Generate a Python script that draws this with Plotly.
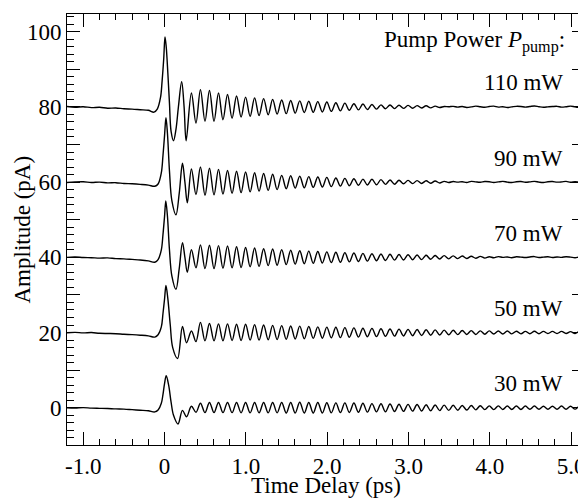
import numpy as np
import plotly.graph_objects as go

# trace offsets (pA) and labels, bottom to top
offsets = [0, 20, 40, 60, 80]
labels = ["30 mW", "50 mW", "70 mW", "90 mW", "110 mW"]

# baseline before the pulse (ps), values relative to the trace offset
t_pre = [-1.2, -1.1, -1.0, -0.9, -0.8, -0.7, -0.6, -0.5, -0.4, -0.3, -0.2]
pre_30 = [0.0, -0.05, 0.05, -0.1, -0.15, -0.2, -0.3, -0.35, -0.5, -0.65, -0.8]
pre_50 = [-0.05, 0.05, -0.1, 0.0, -0.2, -0.25, -0.3, -0.45, -0.55, -0.7, -0.9]
pre_70 = [0.0, 0.1, -0.05, -0.1, -0.2, -0.15, -0.35, -0.4, -0.55, -0.7, -0.95]
pre_90 = [-0.1, 0.05, 0.1, -0.1, 0.0, -0.2, -0.15, -0.35, -0.45, -0.6, -0.8]
pre_110 = [0.1, -0.1, 0.05, -0.2, -0.1, -0.35, -0.3, -0.5, -0.6, -0.75, -0.9]

# main pulse and first dips
tp_30 = [-0.12, -0.08, -0.04, -0.02, 0.0, 0.02, 0.05, 0.08, 0.11, 0.165, 0.22, 0.27]
vp_30 = [-1.1, -0.6, 1.2, 3.5, 6.5, 8.5, 6.0, 1.5, -2.0, -4.3, -0.7, -2.4]
tp_50 = [-0.12, -0.08, -0.04, -0.02, 0.0, 0.017, 0.04, 0.07, 0.1, 0.16, 0.22, 0.27]
vp_50 = [-1.2, -0.6, 1.5, 5.0, 9.0, 12.5, 9.0, 2.0, -4.0, -6.9, 1.6, -2.7]
tp_70 = [-0.12, -0.08, -0.04, -0.02, 0.0, 0.015, 0.035, 0.06, 0.09, 0.14, 0.18, 0.22, 0.25, 0.28]
vp_70 = [-1.3, -0.6, 2.0, 6.0, 11.0, 15.0, 11.0, 2.0, -5.0, -8.5, -3.0, 3.9, 0.0, -4.0]
tp_90 = [-0.12, -0.08, -0.04, -0.02, 0.0, 0.017, 0.035, 0.06, 0.09, 0.14, 0.18, 0.22, 0.25, 0.28]
vp_90 = [-1.1, -0.5, 2.5, 7.0, 12.5, 17.1, 13.0, 3.0, -5.0, -8.7, -3.0, 5.0, 0.0, -5.5]
tp_110 = [-0.13, -0.09, -0.05, -0.03, -0.01, 0.005, 0.02, 0.04, 0.06, 0.08, 0.11, 0.14, 0.17, 0.21, 0.24, 0.265]
vp_110 = [-1.4, -0.6, 2.5, 7.0, 13.0, 18.6, 16.0, 9.0, 1.0, -6.5, -9.0, -6.0, 0.0, 6.7, 0.0, -9.0]

# coherent oscillation: extrema every half period (period ~0.111 ps), first peak at 0.33 ps
t_osc = np.round(0.33 + 0.0555 * np.arange(89), 3)
osc_30 = [
    0.4, -1.2, 1.2, -1.3, 1.4, -1.3, 1.4, -1.3, 1.4, -1.3,
    1.4, -1.35, 1.4, -1.35, 1.4, -1.35, 1.4, -1.35, 1.4, -1.35,
    1.4, -1.4, 1.4, -1.4, 1.45, -1.4, 1.4, -1.4, 1.4, -1.4,
    1.35, -1.35, 1.3, -1.3, 1.3, -1.25, 1.25, -1.2, 1.2, -1.15,
    1.1, -1.1, 1.05, -1.05, 1.0, -1.0, 0.95, -0.95, 0.9, -0.9,
    0.85, -0.85, 0.8, -0.8, 0.75, -0.75, 0.7, -0.7, 0.65, -0.65,
    0.6, -0.6, 0.6, -0.55, 0.55, -0.5, 0.5, -0.5, 0.5, -0.45,
    0.45, -0.45, 0.45, -0.45, 0.45, -0.4, 0.45, -0.4, 0.4, -0.4,
    0.4, -0.4, 0.45, -0.4, 0.4, -0.35, 0.4, -0.35, 0.4]
osc_50 = [
    0.4, -2.4, 2.7, -2.2, 2.4, -2.2, 2.3, -2.2, 2.3, -2.1,
    2.2, -2.1, 2.2, -2.0, 2.1, -2.0, 2.0, -1.9, 1.9, -1.85,
    1.85, -1.8, 1.75, -1.7, 1.7, -1.65, 1.6, -1.55, 1.5, -1.5,
    1.45, -1.4, 1.4, -1.35, 1.3, -1.25, 1.25, -1.2, 1.15, -1.1,
    1.1, -1.05, 1.0, -1.0, 0.95, -0.95, 0.9, -0.9, 0.85, -0.85,
    0.8, -0.8, 0.75, -0.7, 0.7, -0.65, 0.65, -0.6, 0.6, -0.55,
    0.55, -0.5, 0.5, -0.5, 0.45, -0.45, 0.45, -0.4, 0.4, -0.4,
    0.4, -0.35, 0.35, -0.35, 0.3, -0.3, 0.35, -0.3, 0.3, -0.25,
    0.3, -0.25, 0.3, -0.25, 0.25, -0.25, 0.3, -0.2, 0.25]
osc_70 = [
    2.0, -2.8, 3.3, -3.0, 3.2, -3.0, 3.1, -2.9, 3.0, -2.8,
    2.8, -2.7, 2.6, -2.5, 2.5, -2.4, 2.3, -2.2, 2.2, -2.1,
    2.0, -1.95, 1.9, -1.8, 1.75, -1.7, 1.65, -1.6, 1.55, -1.5,
    1.45, -1.4, 1.35, -1.3, 1.25, -1.2, 1.15, -1.1, 1.05, -1.0,
    0.95, -0.9, 0.9, -0.85, 0.8, -0.75, 0.75, -0.7, 0.7, -0.65,
    0.6, -0.6, 0.55, -0.5, 0.5, -0.45, 0.45, -0.4, 0.4, -0.35,
    0.35, -0.3, 0.3, -0.25, 0.25, -0.2, 0.15, -0.1, 0.2, 0.0,
    0.1, -0.1, 0.15, 0.05, -0.05, 0.1, 0.2, -0.05, 0.05, 0.15,
    -0.05, 0.1, 0.0, 0.15, 0.05, -0.1, 0.1, 0.05, 0.0]
osc_90 = [
    3.5, -3.3, 4.0, -3.5, 3.7, -3.4, 3.4, -3.2, 3.1, -3.0,
    2.9, -2.8, 2.7, -2.6, 2.5, -2.4, 2.3, -2.2, 2.1, -2.0,
    1.8, -1.75, 1.7, -1.6, 1.55, -1.5, 1.45, -1.4, 1.35, -1.3,
    1.25, -1.2, 1.1, -1.05, 1.0, -0.95, 0.9, -0.85, 0.8, -0.75,
    0.75, -0.7, 0.65, -0.6, 0.55, -0.55, 0.5, -0.45, 0.45, -0.4,
    0.4, -0.35, 0.35, -0.3, 0.3, -0.25, 0.2, -0.1, 0.15, 0.0,
    0.1, -0.1, 0.2, 0.05, -0.05, 0.15, 0.1, -0.1, 0.05, 0.2,
    0.0, -0.1, 0.1, 0.15, -0.05, 0.05, 0.2, 0.0, -0.1, 0.1,
    0.15, 0.0, 0.05, 0.2, -0.05, 0.1, 0.0, 0.15, 0.05]
osc_110 = [
    3.7, -4.3, 4.6, -3.8, 4.4, -3.8, 3.7, -3.4, 3.3, -3.0,
    2.9, -2.7, 2.6, -2.5, 2.4, -2.3, 2.2, -2.1, 2.0, -1.9,
    1.85, -1.8, 1.7, -1.65, 1.6, -1.5, 1.5, -1.45, 1.4, -1.35,
    1.3, -1.2, 1.1, -1.05, 1.0, -0.9, 0.85, -0.8, 0.75, -0.7,
    0.65, -0.6, 0.55, -0.5, 0.5, -0.45, 0.45, -0.4, 0.4, -0.35,
    0.35, -0.3, 0.3, -0.25, 0.2, -0.15, 0.1, 0.05, 0.15, -0.05,
    0.1, -0.15, 0.0, 0.2, 0.05, -0.1, 0.1, 0.2, -0.05, 0.05,
    -0.15, 0.0, 0.15, 0.1, -0.05, 0.1, 0.25, 0.05, -0.1, 0.0,
    0.1, 0.15, -0.05, 0.05, 0.2, 0.0, -0.1, 0.1, 0.05]

traces = [
    (pre_30, tp_30, vp_30, osc_30),
    (pre_50, tp_50, vp_50, osc_50),
    (pre_70, tp_70, vp_70, osc_70),
    (pre_90, tp_90, vp_90, osc_90),
    (pre_110, tp_110, vp_110, osc_110),
]

FONT = "Liberation Serif"
FS = 23
fig = go.Figure()
for off, lab, (pre, tp, vp, osc) in zip(offsets, labels, traces):
    t = list(t_pre) + list(tp) + list(t_osc)
    y = np.array(list(pre) + list(vp) + list(osc)) + off
    fig.add_trace(go.Scatter(x=t, y=y, mode="lines", name=lab,
                             line=dict(color="black", width=1.4, shape="spline", smoothing=1.0)))
    fig.add_annotation(x=4.92, y=off + 6.4, text=lab, showarrow=False, xanchor="right",
                       font=dict(size=FS, family=FONT, color="black"))

fig.add_annotation(x=4.95, y=97.4, text="Pump Power <i>P</i><sub>pump</sub>:", showarrow=False,
                   xanchor="right", font=dict(size=FS, family=FONT, color="black"))

# axis titles placed by hand
fig.add_annotation(xref="paper", yref="paper", x=0.5, y=0, yanchor="middle", yshift=-40,
                   text="Time Delay (ps)", showarrow=False, font=dict(size=FS, family=FONT, color="black"))
fig.add_annotation(xref="paper", yref="paper", x=0, y=0.5, xanchor="center", xshift=-45,
                   text="Amplitude (pA)", textangle=-90, showarrow=False,
                   font=dict(size=FS, family=FONT, color="black"))

fig.update_xaxes(range=[-1.2, 5.17], tickvals=[-1, 0, 1, 2, 3, 4, 5],
                 ticktext=["-1.0", "0", "1.0", "2.0", "3.0", "4.0", "5.0"],
                 ticks="inside", ticklen=13, tickwidth=1, tickcolor="black",
                 minor=dict(tickmode="linear", tick0=0, dtick=0.2, ticks="inside", ticklen=6, tickcolor="black"),
                 showline=True, linecolor="black", linewidth=1, mirror="ticks",
                 showgrid=False, zeroline=False, automargin=False)
fig.update_yaxes(range=[-9.9, 104.7], tickvals=[0, 10, 20, 30, 40, 50, 60, 70, 80, 90, 100],
                 ticktext=["0", "", "20", "", "40", "", "60", "", "80", "", "100"],
                 ticks="inside", ticklen=13, tickwidth=1, tickcolor="black",
                 minor=dict(tickmode="linear", tick0=0, dtick=2, ticks="inside", ticklen=7, tickcolor="black"),
                 showline=True, linecolor="black", linewidth=1, mirror="ticks",
                 showgrid=False, zeroline=False, automargin=False)
# the page body adds an 8 px margin, so the figure is 8 px smaller each way
fig.update_layout(width=578, height=490, margin=dict(l=59, r=1, t=6, b=53),
                  plot_bgcolor="white", paper_bgcolor="white", showlegend=False,
                  font=dict(family=FONT, size=FS, color="black"))
fig.write_html("out.html")
